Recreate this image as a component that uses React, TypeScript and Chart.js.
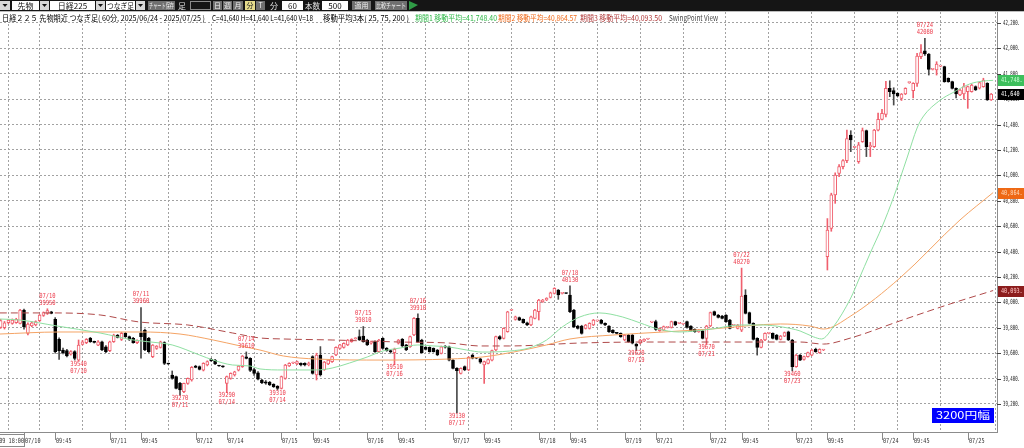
import React, { useEffect, useRef } from 'react';
import { Chart, registerables } from 'chart.js';

Chart.register(...registerables);

// ---------- data ----------
const FIRST_INDEX = -6; // bar index of the first visible candle (07/10 00:00 = 0)

const OPEN = [
  39803, 39800, 39840, 39835, 39840, 39835, 39940, 39756, 39814, 39822,
  39856, 39898, 39914, 39925, 39866, 39709, 39625, 39620, 39593, 39612,
  39546, 39670, 39683, 39717, 39690, 39664, 39690, 39651, 39620, 39690,
  39740, 39709, 39756, 39730, 39717, 39683, 39760, 39782, 39717, 39572,
  39638, 39646, 39683, 39518, 39428, 39415, 39362, 39297, 39362, 39389,
  39499, 39494, 39467, 39507, 39551, 39546, 39502, 39495, 39362, 39402,
  39428, 39467, 39494, 39572, 39559, 39470, 39445, 39389, 39375, 39370,
  39355, 39340, 39323, 39402, 39499, 39523, 39515, 39520, 39520, 39510,
  39573, 39428, 39586, 39470, 39515, 39533, 39586, 39638, 39646, 39665,
  39691, 39714, 39730, 39735, 39704, 39678, 39691, 39612, 39717, 39638,
  39620, 39604, 39678, 39709, 39665, 39651, 39743, 39875, 39704, 39646,
  39646, 39638, 39625, 39599, 39651, 39651, 39546, 39481, 39441, 39494,
  39468, 39586, 39562, 39555, 39507, 39520, 39546, 39625, 39730, 39717,
  39770, 39938, 39866, 39880, 39866, 39840, 39822, 39874, 39927, 40006,
  40019, 40040, 40071, 40097, 40071, 40071, 40058, 39940, 39814, 39814,
  39796, 39796, 39822, 39855, 39861, 39835, 39814, 39782, 39757, 39756,
  39704, 39743, 39743, 39672, 39678, 39696, 39712, 39845, 39848, 39777,
  39782, 39803, 39803, 39848, 39835, 39830, 39848, 39814, 39788, 39769,
  39777, 39717, 39814, 39927, 39900, 39893, 39900, 39861, 39820, 39796,
  39782, 40058, 39919, 39835, 39717, 39646, 39704, 39756, 39756, 39743,
  39709, 39735, 39769, 39704, 39494, 39585, 39551, 39573, 39585, 39630,
  39604, 39625, 40360, 40583, 40846, 41016, 41069, 41116, 41318, 41221,
  41108, 41266, 41352, 41226, 41226, 41357, 41441, 41480, 41686, 41667,
  41646, 41607, 41641, 41730, 41667, 41725, 41935, 41980, 41956, 41835,
  41830, 41860, 41856, 41764, 41738, 41685, 41633, 41641, 41659, 41660,
  41699, 41686, 41699, 41725, 41594,
];
const HIGH = [
  39866, 39850, 39866, 39870, 39875, 39945, 39948, 39840, 39848, 39855,
  39905, 39925, 39950, 39930, 39880, 39720, 39640, 39630, 39620, 39620,
  39704, 39700, 39715, 39725, 39695, 39700, 39695, 39660, 39695, 39750,
  39748, 39765, 39762, 39735, 39725, 39705, 39960, 39790, 39725, 39668,
  39660, 39695, 39690, 39522, 39460, 39420, 39370, 39365, 39405, 39495,
  39505, 39500, 39525, 39540, 39560, 39552, 39505, 39500, 39420, 39445,
  39458, 39503, 39582, 39610, 39565, 39480, 39455, 39395, 39385, 39378,
  39360, 39345, 39420, 39512, 39525, 39530, 39538, 39525, 39525, 39530,
  39580, 39600, 39652, 39535, 39550, 39578, 39650, 39670, 39682, 39708,
  39714, 39722, 39783, 39810, 39710, 39695, 39698, 39710, 39722, 39645,
  39628, 39640, 39708, 39716, 39670, 39735, 39880, 39910, 39710, 39652,
  39650, 39642, 39630, 39656, 39660, 39656, 39550, 39486, 39485, 39500,
  39572, 39592, 39565, 39560, 39538, 39555, 39625, 39735, 39738, 39800,
  39930, 39945, 39892, 39885, 39870, 39845, 39892, 39945, 40024, 40024,
  40037, 40081, 40115, 40102, 40076, 40074, 40130, 39945, 39820, 39820,
  39827, 39840, 39866, 39860, 39866, 39840, 39818, 39786, 39760, 39760,
  39748, 39748, 39748, 39676, 39709, 39714, 39716, 39850, 39860, 39800,
  39814, 39808, 39853, 39852, 39838, 39833, 39852, 39818, 39792, 39787,
  39782, 39819, 39924, 39932, 39905, 39898, 39905, 39866, 39824, 39827,
  40270, 40100, 39924, 39840, 39722, 39709, 39761, 39760, 39760, 39748,
  39740, 39767, 39774, 39709, 39590, 39590, 39578, 39609, 39630, 39640,
  39635, 39630, 40660, 40860, 41020, 41085, 41125, 41357, 41352, 41225,
  41260, 41373, 41357, 41260, 41362, 41490, 41520, 41740, 41745, 41690,
  41650, 41645, 41690, 41735, 41730, 41961, 42030, 42080, 41960, 41840,
  41895, 41865, 41860, 41768, 41742, 41690, 41677, 41725, 41704, 41718,
  41705, 41735, 41765, 41730, 41645,
];
const LOW = [
  39796, 39790, 39830, 39828, 39835, 39830, 39790, 39743, 39808, 39815,
  39850, 39890, 39905, 39910, 39600, 39551, 39595, 39570, 39585, 39546,
  39540, 39665, 39675, 39685, 39680, 39660, 39620, 39605, 39612, 39685,
  39720, 39700, 39725, 39700, 39678, 39675, 39560, 39620, 39605, 39565,
  39630, 39640, 39510, 39510, 39395, 39318, 39270, 39290, 39355, 39380,
  39485, 39468, 39460, 39500, 39535, 39510, 39495, 39488, 39290, 39395,
  39420, 39460, 39488, 39555, 39455, 39425, 39390, 39360, 39355, 39345,
  39330, 39310, 39318, 39395, 39495, 39518, 39510, 39500, 39500, 39500,
  39435, 39389, 39420, 39465, 39510, 39528, 39580, 39632, 39640, 39660,
  39686, 39710, 39700, 39686, 39660, 39672, 39607, 39605, 39632, 39615,
  39600, 39510, 39672, 39652, 39620, 39645, 39738, 39686, 39600, 39625,
  39608, 39608, 39580, 39594, 39640, 39540, 39476, 39130, 39436, 39462,
  39462, 39555, 39556, 39520, 39362, 39515, 39540, 39620, 39705, 39712,
  39765, 39935, 39860, 39856, 39835, 39817, 39817, 39869, 39861, 40000,
  40014, 40035, 40066, 40024, 40066, 40068, 39920, 39800, 39790, 39750,
  39790, 39790, 39817, 39850, 39830, 39817, 39764, 39757, 39752, 39725,
  39699, 39686, 39673, 39620, 39673, 39691, 39708, 39840, 39780, 39772,
  39777, 39798, 39798, 39817, 39832, 39827, 39798, 39772, 39764, 39764,
  39712, 39670, 39809, 39895, 39877, 39869, 39843, 39791, 39816, 39791,
  39770, 39909, 39830, 39704, 39585, 39641, 39699, 39752, 39712, 39704,
  39704, 39730, 39699, 39460, 39489, 39541, 39546, 39568, 39580, 39607,
  39599, 39620, 40255, 40560, 40780, 40990, 41050, 41100, 41187, 41217,
  41095, 41260, 41148, 41148, 41220, 41350, 41436, 41460, 41620, 41554,
  41620, 41590, 41636, 41725, 41610, 41700, 41920, 41945, 41790, 41830,
  41790, 41855, 41733, 41733, 41680, 41610, 41628, 41600, 41528, 41655,
  41668, 41680, 41694, 41590, 41590,
];
const CLOSE = [
  39856, 39840, 39861, 39861, 39866, 39940, 39809, 39830, 39840, 39848,
  39900, 39919, 39935, 39914, 39612, 39620, 39604, 39578, 39612, 39559,
  39664, 39690, 39709, 39690, 39685, 39690, 39625, 39612, 39690, 39743,
  39725, 39756, 39730, 39709, 39683, 39700, 39730, 39625, 39612, 39664,
  39656, 39690, 39520, 39515, 39402, 39323, 39310, 39362, 39402, 39488,
  39488, 39473, 39520, 39533, 39541, 39515, 39499, 39492, 39415, 39441,
  39454, 39499, 39578, 39559, 39465, 39440, 39395, 39368, 39363, 39350,
  39337, 39323, 39415, 39507, 39520, 39525, 39533, 39507, 39507, 39515,
  39441, 39586, 39428, 39530, 39546, 39573, 39646, 39665, 39678, 39704,
  39709, 39717, 39704, 39691, 39665, 39690, 39612, 39704, 39638, 39620,
  39610, 39630, 39704, 39657, 39625, 39730, 39875, 39691, 39604, 39630,
  39612, 39612, 39586, 39651, 39648, 39546, 39481, 39462, 39481, 39468,
  39567, 39560, 39560, 39530, 39533, 39550, 39620, 39730, 39712, 39796,
  39925, 39940, 39887, 39861, 39840, 39822, 39887, 39940, 40019, 40019,
  40032, 40076, 40110, 40058, 40071, 40070, 39927, 39809, 39796, 39756,
  39822, 39835, 39861, 39855, 39835, 39822, 39769, 39762, 39756, 39730,
  39743, 39691, 39678, 39656, 39704, 39709, 39712, 39845, 39788, 39796,
  39809, 39803, 39848, 39822, 39835, 39830, 39803, 39777, 39769, 39782,
  39717, 39814, 39919, 39900, 39882, 39874, 39848, 39796, 39820, 39822,
  40050, 39914, 39835, 39709, 39646, 39704, 39756, 39756, 39717, 39709,
  39735, 39762, 39704, 39494, 39585, 39546, 39573, 39604, 39625, 39612,
  39630, 39625, 40570, 40846, 41003, 41069, 41116, 41290, 41279, 41221,
  41240, 41352, 41226, 41230, 41357, 41441, 41488, 41685, 41659, 41641,
  41625, 41641, 41686, 41730, 41725, 41940, 41966, 41956, 41835, 41835,
  41877, 41860, 41738, 41738, 41685, 41641, 41672, 41699, 41699, 41712,
  41672, 41730, 41751, 41594, 41640,
];

// moving averages (bar index, price)
const MA25_IDX = [-6.2, -1, 8.5, 19.5, 28, 35, 38, 45, 48.5, 53.5, 58, 60.5, 66.5, 75, 79, 83.5, 88, 92, 96.5, 101, 105, 109, 113.5, 117.5, 124.5, 129.5, 134, 138, 142.5, 147.5, 153.5, 158, 162.5, 168, 176.5, 183.5, 189.5, 194.5, 199, 202.5, 204.5, 207.5, 212, 214, 217, 220, 223, 226.5, 229, 230.5, 235, 238, 242.5, 246, 248.5];
const MA25_VAL = [39869, 39861, 39814, 39759, 39704, 39680, 39665, 39586, 39546, 39507, 39499, 39476, 39468, 39468, 39483, 39523, 39570, 39617, 39641, 39665, 39657, 39649, 39625, 39609, 39617, 39641, 39704, 39806, 39885, 39917, 39885, 39838, 39791, 39767, 39791, 39822, 39822, 39806, 39775, 39728, 39712, 39806, 40035, 40176, 40389, 40594, 40830, 41145, 41373, 41460, 41594, 41649, 41720, 41743, 41748.4];
const MA75_IDX = [-6.2, 9, 30, 40, 48.5, 55.5, 60.5, 66.5, 75, 92, 109, 117.5, 125.5, 134, 140, 151, 164, 176.5, 194, 201.5, 205, 212, 224.6, 240, 248.5];
const MA75_VAL = [39751, 39767, 39767, 39751, 39704, 39657, 39625, 39578, 39554, 39546, 39554, 39570, 39609, 39665, 39712, 39743, 39767, 39791, 39830, 39814, 39790, 39893, 40192, 40649, 40864.57];
const MA200_IDX = [-6.2, 7.5, 19.5, 29.5, 42, 53.5, 60.5, 66.5, 79, 96.5, 109, 117, 124.5, 142.5, 160, 176.5, 199, 205, 212, 224.5, 237.5, 248.5];
const MA200_VAL = [39917, 39917, 39901, 39846, 39822, 39759, 39720, 39712, 39704, 39688, 39680, 39657, 39657, 39680, 39688, 39688, 39688, 39672, 39720, 39853, 39988, 40093.5];

// axis ticks
const X_TICK_INDEX = [0, 8, 22, 30, 44, 52, 66, 74, 88, 96, 110, 118, 132, 140, 154, 162, 176, 184, 198, 206, 220, 228, 242];
const X_TICK_LABELS = ['07/10', '09:45', '07/11', '09:45', '07/12', '07/14', '07/15', '09:45', '07/16', '09:45', '07/17', '09:45', '07/18', '09:45', '07/19', '07/21', '07/22', '09:45', '07/23', '09:45', '07/24', '09:45', '07/25'];
const Y_TICK_VALUES = [39200, 39400, 39600, 39800, 40000, 40200, 40400, 40600, 40800, 41000, 41200, 41400, 41600, 41800, 42000, 42200];

// swing points
const SWING_IDX = [6, 14, 30, 40, 52, 57, 65, 87, 95, 101, 111, 140, 157, 175, 184, 197, 231];
const SWING_KIND = ['H', 'L', 'H', 'L', 'L', 'H', 'L', 'H', 'L', 'H', 'L', 'H', 'L', 'L', 'H', 'L', 'H'];
const SWING_DATE = ['07/10', '07/10', '07/11', '07/11', '07/14', '07/14', '07/14', '07/15', '07/16', '07/16', '07/17', '07/18', '07/19', '07/21', '07/22', '07/23', '07/24'];
const SWING_PRICE = [39950, 39540, 39960, 39270, 39290, 39610, 39310, 39810, 39510, 39910, 39130, 40130, 39620, 39670, 40270, 39460, 42080];

// header texts
const HEADER_TITLE = '日経２２５ 先物期近 つなぎ足( 60分, 2025/06/24 - 2025/07/25 )';
const HEADER_LAST = 'C=41,640 H=41,640 L=41,640 V=18';
const HEADER_MA = '移動平均3本( 25, 75, 200 )';
const HEADER_MA_LINES = ['期間1 移動平均=41,748.40', '期間2 移動平均=40,864.57', '期間3 移動平均=40,093.50'];
const HEADER_VIEW = 'SwingPoint View';
const RANGE_TEXT = '3200円幅';
const START_TEXT = '07/09 18:00';

// ---------- styling ----------
const RED = '#f0606e';
const RED_TEXT = '#ec3a4a';
const GREEN = '#8fe0a2';
const ORANGE = '#f5a465';
const DARKRED = '#b04a4a';
const MONO = '"DejaVu Sans Mono", monospace';
const JP = '"Noto Sans CJK JP", sans-serif';

const Y_MAX = 42286.5;
const Y_MIN = 38979.5;
const X_MIN = -6.154;
const X_MAX = 249.49;

function fitText(ctx: CanvasRenderingContext2D, text: string, x: number, y: number, w: number, font: string, color: string, align: 'left' | 'center' | 'right' = 'left') {
  ctx.save();
  ctx.font = font;
  const m = ctx.measureText(text).width || 1;
  const s = w / m;
  let x0 = x;
  if (align === 'center') x0 = x - w / 2;
  else if (align === 'right') x0 = x - w;
  ctx.translate(x0, y);
  ctx.scale(s, 1);
  ctx.fillStyle = color;
  ctx.textAlign = 'left';
  ctx.textBaseline = 'middle';
  ctx.fillText(text, 0, 0);
  ctx.restore();
}

function maxText(ctx: CanvasRenderingContext2D, text: string, cx: number, y: number, maxW: number, font: string, color: string) {
  ctx.save();
  ctx.font = font;
  const m = ctx.measureText(text).width || 1;
  const w = Math.min(m, maxW);
  ctx.restore();
  fitText(ctx, text, cx, y, w, font, color, 'center');
}

const TOOLBAR: { x: number; w: number; kind: string; text?: string }[] = [
  { x: 0, w: 10, kind: 'drop' },
  { x: 12, w: 27, kind: 'input', text: '先物' },
  { x: 40, w: 9, kind: 'drop' },
  { x: 50, w: 45, kind: 'input', text: '日経225' },
  { x: 96, w: 9, kind: 'drop' },
  { x: 106, w: 29, kind: 'input', text: 'つなぎ足' },
  { x: 136, w: 9, kind: 'drop' },
  { x: 148, w: 27, kind: 'btn', text: 'チャート保存' },
  { x: 177, w: 10, kind: 'label', text: '足' },
  { x: 190, w: 21, kind: 'dark' },
  { x: 213, w: 9, kind: 'btn', text: '日' },
  { x: 223, w: 9, kind: 'btn', text: '週' },
  { x: 233, w: 10, kind: 'btn', text: '月' },
  { x: 245, w: 10, kind: 'sel', text: '分' },
  { x: 256, w: 9, kind: 'btn', text: 'T' },
  { x: 269, w: 10, kind: 'label', text: '分' },
  { x: 282, w: 21, kind: 'input', text: '60' },
  { x: 305, w: 15, kind: 'label', text: '本数' },
  { x: 322, w: 26, kind: 'input', text: '500' },
  { x: 352, w: 19, kind: 'btn', text: '適用' },
  { x: 375, w: 32, kind: 'btn', text: '比較チャート' },
  { x: 409, w: 9, kind: 'flag' },
];

const fmt = (v: number) => Math.floor(v).toLocaleString('en-US');

const decor = {
  id: 'decor',
  beforeDraw(chart: any) {
    const ctx = chart.ctx as CanvasRenderingContext2D;
    ctx.save();
    ctx.fillStyle = '#ffffff';
    ctx.fillRect(0, 0, chart.width, chart.height);
    ctx.restore();
  },
  afterDraw(chart: any) {
    const ctx = chart.ctx as CanvasRenderingContext2D;
    const xs = chart.scales.x;
    const ys = chart.scales.y;
    const area = chart.chartArea;
    ctx.save();

    // toolbar
    ctx.fillStyle = '#151515';
    ctx.fillRect(0, 0, chart.width, 11);
    ctx.fillStyle = '#bdbdbd';
    ctx.fillRect(0, 11, chart.width, 1);
    TOOLBAR.forEach((t) => {
      const cx = t.x + t.w / 2;
      if (t.kind === 'drop') {
        ctx.fillStyle = '#d8d8d8';
        ctx.fillRect(t.x, 1, t.w, 9);
        ctx.fillStyle = '#111';
        ctx.beginPath();
        ctx.moveTo(cx - 2.5, 4);
        ctx.lineTo(cx + 2.5, 4);
        ctx.lineTo(cx, 7);
        ctx.closePath();
        ctx.fill();
      } else if (t.kind === 'input') {
        ctx.fillStyle = '#ffffff';
        ctx.fillRect(t.x, 1, t.w, 9);
        maxText(ctx, t.text || '', cx, 5.8, t.w - 2, `8px ${JP}`, '#111');
      } else if (t.kind === 'btn') {
        ctx.fillStyle = '#707070';
        ctx.fillRect(t.x, 1, t.w, 9);
        maxText(ctx, t.text || '', cx, 5.8, t.w - 2, `7px ${JP}`, '#f0f0f0');
      } else if (t.kind === 'sel') {
        ctx.fillStyle = '#e6dc8c';
        ctx.fillRect(t.x, 1, t.w, 9);
        maxText(ctx, t.text || '', cx, 5.8, t.w - 2, `7px ${JP}`, '#222');
      } else if (t.kind === 'label') {
        maxText(ctx, t.text || '', cx, 5.8, t.w, `8px ${JP}`, '#e0e0e0');
      } else if (t.kind === 'dark') {
        ctx.strokeStyle = '#8a8a8a';
        ctx.strokeRect(t.x + 0.5, 1.5, t.w - 1, 8);
      } else if (t.kind === 'flag') {
        ctx.fillStyle = '#2f9a45';
        ctx.beginPath();
        ctx.moveTo(t.x, 1);
        ctx.lineTo(t.x + t.w, 5);
        ctx.lineTo(t.x, 10);
        ctx.closePath();
        ctx.fill();
      }
    });

    // header line
    ctx.fillStyle = '#ffffff';
    ctx.fillRect(0, 12, 720, 10);
    const hy = 17.5;
    fitText(ctx, HEADER_TITLE, 2, hy, 203, `8px ${JP}`, '#000');
    fitText(ctx, HEADER_LAST, 212, hy, 101, `8px ${JP}`, '#000');
    fitText(ctx, HEADER_MA, 323, hy, 86, `8px ${JP}`, '#000');
    fitText(ctx, HEADER_MA_LINES[0], 415, hy, 82, `8px ${JP}`, '#2fb848');
    fitText(ctx, HEADER_MA_LINES[1], 498, hy, 79, `8px ${JP}`, '#f06a1a');
    fitText(ctx, HEADER_MA_LINES[2], 580, hy, 82, `8px ${JP}`, '#b03838');
    fitText(ctx, HEADER_VIEW, 669, hy, 49, `8px ${JP}`, '#444');

    // right axis labels
    Y_TICK_VALUES.forEach((v) => {
      const y = Math.round(ys.getPixelForValue(v));
      ctx.fillStyle = '#444';
      ctx.fillRect(area.right, y, 4, 1);
      fitText(ctx, fmt(v) + '.', area.right + 6, y + 0.5, 17, `7px ${MONO}`, '#222');
    });

    // value tags at right
    const tags = [
      { v: MA25_VAL[MA25_VAL.length - 1], t: fmt(MA25_VAL[MA25_VAL.length - 1]) + '.', bg: '#3dbf5c', fg: '#c9ffd4' },
      { v: CLOSE[CLOSE.length - 1], t: fmt(CLOSE[CLOSE.length - 1]), bg: '#000000', fg: '#ffffff' },
      { v: MA75_VAL[MA75_VAL.length - 1], t: fmt(MA75_VAL[MA75_VAL.length - 1]) + '.', bg: '#ee6814', fg: '#ffdcbc' },
      { v: MA200_VAL[MA200_VAL.length - 1], t: fmt(MA200_VAL[MA200_VAL.length - 1]) + '.', bg: '#8c1d1d', fg: '#ffc6c6' },
    ];
    tags.forEach((g) => {
      const y = ys.getPixelForValue(g.v);
      ctx.fillStyle = g.bg;
      ctx.fillRect(area.right + 1, Math.round(y - 5), 27, 11);
      fitText(ctx, g.t, area.right + 4, Math.round(y) + 0.5, g.t.length * 3.1, `7px ${MONO}`, g.fg);
    });

    // x axis labels
    X_TICK_INDEX.forEach((ix, k) => {
      const x = Math.round(xs.getPixelForValue(ix));
      ctx.fillStyle = '#8a8a8a';
      ctx.fillRect(x, area.bottom + 1, 1, 7);
      fitText(ctx, X_TICK_LABELS[k], x + 1, 441.5, 15.5, `7px ${MONO}`, '#333');
    });

    // start label box (bottom-left)
    ctx.fillStyle = '#ffffff';
    ctx.fillRect(0, 434, 25, 13);
    ctx.strokeStyle = '#8a8a8a';
    ctx.strokeRect(-0.5, 434.5, 25, 12);
    fitText(ctx, START_TEXT, 24, 441.5, 34, `7px ${MONO}`, '#333', 'right');

    // swing point annotations
    SWING_IDX.forEach((ix, k) => {
      const x = xs.getPixelForValue(ix);
      const y = ys.getPixelForValue(SWING_PRICE[k]);
      const price = String(SWING_PRICE[k]);
      if (SWING_KIND[k] === 'H') {
        fitText(ctx, SWING_DATE[k], x, y - 13, 16.5, `7px ${MONO}`, RED_TEXT, 'center');
        fitText(ctx, price, x, y - 6, 16.5, `7px ${MONO}`, RED_TEXT, 'center');
      } else {
        fitText(ctx, price, x, y + 3, 16.5, `7px ${MONO}`, RED_TEXT, 'center');
        fitText(ctx, SWING_DATE[k], x, y + 10, 16.5, `7px ${MONO}`, RED_TEXT, 'center');
      }
    });

    // range box
    ctx.fillStyle = '#0000ff';
    ctx.fillRect(932, 408, 62, 15);
    fitText(ctx, RANGE_TEXT, 963, 415.5, 54, `10px ${JP}`, '#ffffff', 'center');

    ctx.restore();
  },
};

export default function App() {
  const ref = useRef<HTMLCanvasElement | null>(null);

  useEffect(() => {
    if (!ref.current) return;
    const idx = OPEN.map((_, i) => i + FIRST_INDEX);
    const up = OPEN.map((o, i) => CLOSE[i] >= o);
    const bodies = idx.map((x, i) => ({ x, y: [OPEN[i], CLOSE[i]] }));
    const wicks = idx.map((x, i) => ({ x, y: [LOW[i], HIGH[i]] }));
    const line = (xsArr: number[], vs: number[]) => xsArr.map((x, i) => ({ x, y: vs[i] }));

    const gridCommon = { color: '#a2a2a2', lineWidth: 1, drawTicks: false };

    const chart = new Chart(ref.current, {
      type: 'bar',
      data: {
        datasets: [
          {
            type: 'line',
            data: line(MA25_IDX, MA25_VAL),
            borderColor: GREEN,
            borderWidth: 1,
            pointRadius: 0,
            cubicInterpolationMode: 'monotone',
            order: 0,
          } as any,
          {
            type: 'line',
            data: line(MA75_IDX, MA75_VAL),
            borderColor: ORANGE,
            borderWidth: 1,
            pointRadius: 0,
            cubicInterpolationMode: 'monotone',
            order: 0,
          } as any,
          {
            type: 'line',
            data: line(MA200_IDX, MA200_VAL),
            borderColor: DARKRED,
            borderWidth: 1,
            borderDash: [7, 4],
            pointRadius: 0,
            cubicInterpolationMode: 'monotone',
            order: 0,
          } as any,
          {
            type: 'bar',
            data: bodies,
            backgroundColor: up.map((u) => (u ? '#ffffff' : '#000000')),
            borderColor: up.map((u) => (u ? RED : '#000000')),
            borderWidth: 1,
            borderSkipped: false,
            barThickness: 3,
            minBarLength: 1,
            grouped: false,
            order: 1,
          } as any,
          {
            type: 'bar',
            data: wicks,
            backgroundColor: up.map((u) => (u ? RED : '#4a4a4a')),
            borderWidth: 0,
            barThickness: 1,
            grouped: false,
            order: 2,
          } as any,
        ],
      },
      options: {
        responsive: false,
        animation: false,
        devicePixelRatio: 1,
        layout: { padding: { top: 12, left: 0, right: 0, bottom: 0 } },
        plugins: { legend: { display: false }, tooltip: { enabled: false } },
        scales: {
          x: {
            type: 'linear',
            position: 'bottom',
            min: X_MIN,
            max: X_MAX,
            offset: false,
            afterBuildTicks: (s: any) => {
              s.ticks = X_TICK_INDEX.map((v) => ({ value: v }));
            },
            afterFit: (s: any) => {
              s.height = 16;
            },
            ticks: { display: false },
            grid: gridCommon,
            border: { display: true, color: '#8c8c8c', dash: [2, 2] },
          },
          y: {
            type: 'linear',
            position: 'right',
            min: Y_MIN,
            max: Y_MAX,
            afterBuildTicks: (s: any) => {
              s.ticks = Y_TICK_VALUES.map((v) => ({ value: v }));
            },
            afterFit: (s: any) => {
              s.width = 27;
            },
            ticks: { display: false },
            grid: gridCommon,
            border: { display: true, color: '#8c8c8c', dash: [2, 2] },
          },
        },
      } as any,
      plugins: [decor],
    });
    return () => chart.destroy();
  }, []);

  return (
    <div style={{ position: 'absolute', left: 0, top: 0, width: 1024, height: 448, background: '#fff' }}>
      <canvas ref={ref} width={1024} height={448} style={{ display: 'block' }} />
    </div>
  );
}
